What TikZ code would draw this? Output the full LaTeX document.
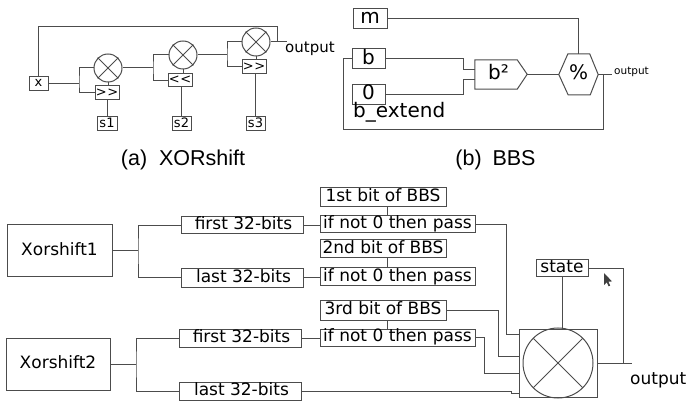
\documentclass[tikz,border=0pt]{standalone}
\usepackage{fontspec}
\setmainfont{DejaVu Sans}
\newfontfamily\capfont{Liberation Sans}
\begin{document}
\begin{tikzpicture}[x=1pt,y=-1pt,
  wire/.style={draw=black!70, line width=1pt},
  bx/.style={draw=black!70, line width=1pt, inner sep=0pt},
  fa/.style={font=\fontsize{13}{15}\selectfont, text height=9.6pt, text depth=2.6pt},
  fb/.style={font=\fontsize{20}{22}\selectfont, text height=14.8pt, text depth=4.4pt},
  fc/.style={font=\fontsize{17}{19}\selectfont, text height=12.7pt, text depth=3.8pt},
  xorc/.style={circle, draw=black!70, line width=1pt, minimum size=28pt, inner sep=0pt},
  capt/.style={font=\capfont\fontsize{21.5}{24}\selectfont, anchor=base, inner sep=0pt}]
\useasboundingbox (0,0) rectangle (689,401);

% ---------------- (a) XORshift ----------------
\node[bx,fa,minimum width=19pt,minimum height=14pt] (xin) at (38.5,83.5) {x};
\node[xorc] (c1) at (108,68) {};
\node[bx,fa,minimum width=24pt,minimum height=14pt] (sh1) at (107,93) {>\kern0.6pt>};
\node[bx,fa,minimum width=20pt,minimum height=14pt] (s1) at (107,124) {s1};
\node[xorc] (c2) at (183,55) {};
\node[bx,fa,minimum width=24pt,minimum height=13pt] (sh2) at (180,80.5) {<\kern0.6pt<};
\node[bx,fa,minimum width=19pt,minimum height=14pt] (s2) at (181.5,124) {s2};
\node[xorc] (c3) at (256,42) {};
\node[bx,fa,minimum width=24pt,minimum height=14pt] (sh3) at (254,67) {>\kern0.6pt>};
\node[bx,fa,minimum width=19pt,minimum height=14pt] (s3) at (255.5,124) {s3};
\foreach \c in {c1,c2,c3}{\draw[wire] (\c.45) -- (\c.225) (\c.135) -- (\c.315);}

\coordinate (j1) at (79,83.5);
\draw[wire] (xin.east) -- (j1);
\draw[wire] (c1.west) -| (j1) |- (sh1.west);
\draw[wire] (c1.south) -- (c1.south |- sh1.north);
\draw[wire] (sh1.south) -- (s1.north);
\coordinate (j2) at (153,68);
\draw[wire] (c1.east) -- (j2);
\draw[wire] (c2.west) -| (j2) |- (sh2.west);
\draw[wire] (c2.south) -- (c2.south |- sh2.north);
\draw[wire] (s2.north |- sh2.south) -- (s2.north);
\coordinate (j3) at (227,55);
\draw[wire] (c2.east) -- (j3);
\draw[wire] (c3.west) -| (j3) |- (sh3.west);
\draw[wire] (c3.south) -- (c3.south |- sh3.north);
\draw[wire] (s3.north |- sh3.south) -- (s3.north);
\coordinate (aout) at (287,42);
\draw[wire] (c3.east) -- (aout);
\coordinate (fb) at (277,27);
\draw[wire] (xin.north) |- (fb) -- (fb |- aout);
\node[anchor=base west, inner sep=0pt, font=\fontsize{15}{17}\selectfont] (aoutl) at (285,53) {output};
\node[capt] (capa) at (183,166) {(a)\hspace{0.55em}XORshift};

% ---------------- (b) BBS ----------------
\node[bx,fb,minimum width=34pt,minimum height=19pt] (m) at (370,18.5) {m};
\node[bx,fb,minimum width=33pt,minimum height=20pt] (bb) at (368.5,59) {b};
\node[bx,fb,minimum width=33pt,minimum height=19pt] (zero) at (368.5,94.5) {0};
\node[anchor=base west, inner sep=0pt, font=\fontsize{20}{22}\selectfont] (bext) at (353,118) {b\_extend};
\node[inner sep=0pt, minimum width=42pt, minimum height=29pt, fb] (sq) at (496,74.5) {\hspace*{5pt}b²};
\draw[wire] (sq.north west) -- (sq.north east) -- ++(10,14.5) -- (sq.south east) -- (sq.south west) -- cycle;
\coordinate (sqtip) at (527,74.5);
\node[inner sep=0pt, minimum width=39pt, minimum height=41pt, fb] (pc) at (578.5,74.5) {\%};
\draw[wire] (pc.west) -- ++(9,-20.5) -- ++(22,0) -- (pc.east) -- ++(-8,20.5) -- ++(-22,0) -- cycle;
\draw[wire] (sqtip) -- (pc.west);
\draw[wire] (m.east) -| (pc.north);
\coordinate (bsi1) at (475,70);
\coordinate (bsi2) at (475,80);
\draw[wire] (bb.east) -- ++(78,0) |- (bsi1);
\draw[wire] (zero.east) -- ++(78,0) |- (bsi2);
\coordinate (bout) at (612,74.5);
\draw[wire] (pc.east) -- (bout);
\node[anchor=base west, inner sep=0pt, font=\fontsize{10.5}{12}\selectfont] (boutl) at (614,74.5) {output};
\coordinate (bfork) at (603,74.5);
\coordinate (bfl) at (343,130);
\draw[wire] (bfork) |- (bfl) |- (bb.west);
\node[capt] (capb) at (495.5,166) {(b)\hspace{0.5em}BBS};

% ---------------- (c) combined ----------------
\node[bx,fc,minimum width=105pt,minimum height=52pt] (x1) at (59.5,251) {Xorshift1};
\node[bx,fc,minimum width=104pt,minimum height=52pt] (x2) at (58,364) {Xorshift2};
\node[bx,fc,minimum width=122pt,minimum height=17pt] (f1) at (242,225.5) {\hspace*{3pt}first 32-bits};
\node[bx,fc,minimum width=122pt,minimum height=19pt] (l1) at (242,278) {\hspace*{3pt}last 32-bits};
\node[bx,fc,minimum width=122pt,minimum height=18pt] (f2) at (240,338) {\hspace*{3pt}first 32-bits};
\node[bx,fc,minimum width=122pt,minimum height=18pt] (l2) at (240,391) {\hspace*{3pt}last 32-bits};
\node[bx,fc,minimum width=126pt,minimum height=19pt] (bit1) at (383,197.5) {1st bit of BBS};
\node[bx,fc,minimum width=155pt,minimum height=17pt] (if1) at (397.5,224.5) {if not 0 then pass};
\node[bx,fc,minimum width=126pt,minimum height=18pt] (bit2) at (383,249) {2nd bit of BBS};
\node[bx,fc,minimum width=155pt,minimum height=18pt] (if2) at (397.5,277) {if not 0 then pass};
\node[bx,fc,minimum width=126pt,minimum height=20pt] (bit3) at (383,310) {3rd bit of BBS};
\node[bx,fc,minimum width=155pt,minimum height=17pt] (if3) at (397.5,337.5) {if not 0 then pass};
\node[bx,minimum width=78pt,minimum height=68pt] (mx) at (558,363) {};
\node[circle, draw=black!70, line width=1pt, inner sep=0pt, minimum size=70pt] (mxc) at (558,363) {};
\draw[wire] (mxc.45) -- (mxc.225) (mxc.135) -- (mxc.315);
\node[bx,fc,minimum width=52pt,minimum height=17pt] (st) at (562,268.5) {state};
\node[anchor=base west, inner sep=0pt, font=\fontsize{17}{19}\selectfont] (coutl) at (630,384) {output};

\coordinate (j4) at (138,251);
\draw[wire] (x1.east) -- (j4);
\draw[wire] (f1.west) -| (j4) |- (l1.west);
\coordinate (j5) at (136,364);
\draw[wire] (x2.east) -- (j5);
\draw[wire] (f2.west) -| (j5) |- (l2.west);
\draw[wire] (f1.east) -- (f1.east -| if1.west);
\draw[wire] (l1.east) -- (l1.east -| if2.west);
\draw[wire] (f2.east) -- (f2.east -| if3.west);
\foreach \i in {1,2,3}{\draw[wire] ([xshift=4pt]bit\i.south) -- ([xshift=4pt]bit\i.south |- if\i.north);}
\coordinate (mi1) at (519,334);
\coordinate (mi2) at (519,356);
\coordinate (mi3) at (519,373);
\coordinate (mi4) at (519,393);
\draw[wire] (if1.east) -- ++(31,0) |- (mi1);
\draw[wire] (bit3.east) -- ++(52,0) |- (mi2);
\draw[wire] (if3.east) -- ++(9,0) |- (mi3);
\draw[wire] (l2.east) -- ++(210,0) |- (mi4);
\draw[wire] (st.south) -- (st.south |- mx.north);
\coordinate (cend) at (632,363);
\coordinate (cfork) at (623,363);
\draw[wire] (mx.east) -- (cend);
\draw[wire] (cfork) |- (st.east);
% mouse pointer
\fill[black!75] (604,273) -- (604,285) -- (606.8,282.3) -- (608.6,286.3) -- (610.2,285.6) -- (608.4,281.7) -- (612,281.4) -- cycle;
\end{tikzpicture}
\end{document}
